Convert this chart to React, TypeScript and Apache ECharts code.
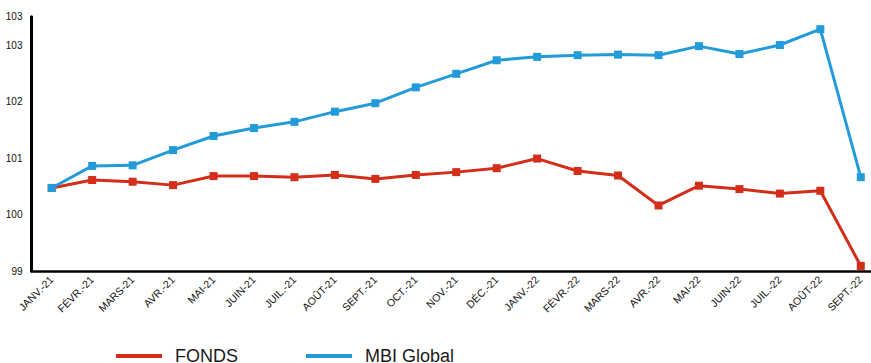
import React, { useEffect, useRef } from "react";
import * as echarts from "echarts";

const categories = [
  "JANV.-21", "FÉVR.-21", "MARS-21", "AVR.-21", "MAI-21", "JUIN-21", "JUIL.-21",
  "AOÛT-21", "SEPT.-21", "OCT.-21", "NOV.-21", "DÉC.-21", "JANV.-22", "FÉVR.-22",
  "MARS-22", "AVR.-22", "MAI-22", "JUIN-22", "JUIL.-22", "AOÛT-22", "SEPT.-22",
];

const fonds = [
  100.47, 100.61, 100.58, 100.52, 100.68, 100.68, 100.66, 100.70, 100.63, 100.70,
  100.75, 100.82, 100.99, 100.77, 100.69, 100.16, 100.51, 100.45, 100.37, 100.42, 99.09,
];

const mbiGlobal = [
  100.47, 100.86, 100.87, 101.14, 101.39, 101.53, 101.64, 101.82, 101.97, 102.25,
  102.49, 102.73, 102.79, 102.82, 102.83, 102.82, 102.98, 102.84, 103.0, 103.28, 100.66,
];

const FONT = "'Liberation Sans', Arial, sans-serif";
const RED = "#D22E1A";
const BLUE = "#239BD9";

export default function App() {
  const ref = useRef<HTMLDivElement>(null);
  useEffect(() => {
    if (!ref.current) return;
    const chart = echarts.init(ref.current, null, { renderer: "svg" });
    chart.setOption({
      animation: false,
      backgroundColor: "#ffffff",
      grid: { left: 31.5, right: 0, top: 16.75, bottom: 92, containLabel: false },
      legend: {
        left: 111,
        top: 342,
        itemWidth: 46,
        itemHeight: 4,
        itemGap: 68,
        icon: "rect",
        textStyle: { fontFamily: FONT, fontSize: 18, color: "#1a1a1a", padding: [0, 0, 16, 8] },
        data: ["FONDS", "MBI Global"],
      },
      xAxis: {
        type: "category",
        data: categories,
        boundaryGap: true,
        axisLine: { show: true, lineStyle: { color: "#000", width: 2.5 } },
        axisTick: { show: false },
        splitLine: { show: false },
        axisLabel: {
          rotate: 45,
          interval: 0,
          margin: 7,
          fontFamily: FONT,
          fontSize: 10.5,
          color: "#111",
        },
      },
      yAxis: {
        type: "value",
        min: 99,
        max: 103.5,
        interval: 1,
        axisLine: { show: true, lineStyle: { color: "#000", width: 3 } },
        axisTick: { show: false },
        splitLine: { show: false },
        axisLabel: {
          margin: 9,
          fontFamily: FONT,
          fontSize: 10,
          color: "#111",
          formatter: (v: number) => String(Math.floor(v)),
        },
      },
      series: [
        {
          name: "FONDS",
          type: "line",
          data: fonds,
          symbol: "rect",
          symbolSize: 8,
          color: RED,
          lineStyle: { width: 3, color: RED },
          itemStyle: { color: RED },
        },
        {
          name: "MBI Global",
          type: "line",
          data: mbiGlobal,
          symbol: "rect",
          symbolSize: 8,
          color: BLUE,
          lineStyle: { width: 3, color: BLUE },
          itemStyle: { color: BLUE },
        },
      ],
    });
    return () => chart.dispose();
  }, []);
  return (
    <div style={{ position: "absolute", left: 0, top: 0, width: 871, height: 363, overflow: "hidden" }}>
      <div ref={ref} style={{ width: 881, height: 363 }} />
    </div>
  );
}
